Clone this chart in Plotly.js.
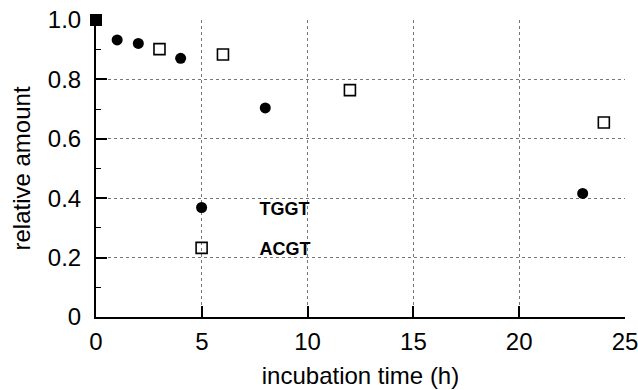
<!DOCTYPE html>
<html>
<head>
<meta charset="utf-8">
<script src="https://cdn.plot.ly/plotly-3.0.1.min.js"></script>
<style>html,body{margin:0;padding:0;background:#fff;}#chart{width:638px;height:390px;}</style>
</head>
<body>
<div id="chart"></div>
<script>
// incubation time (h) and relative amount
var startTime = [0];
var startAmount = [1.0];
var tggtTime = [1, 2, 4, 8, 23];
var tggtAmount = [0.933, 0.921, 0.871, 0.704, 0.416];
var acgtTime = [3, 6, 12, 24];
var acgtAmount = [0.902, 0.884, 0.764, 0.655];
var xTicks = [0, 5, 10, 15, 20, 25];
var yTicks = [0, 0.2, 0.4, 0.6, 0.8, 1.0];
var yTickText = ['0', '0.2', '0.4', '0.6', '0.8', '1.0'];

var traces = [
  {
    x: tggtTime, y: tggtAmount, name: 'TGGT', type: 'scatter', mode: 'markers',
    legendgroup: 'a', cliponaxis: false,
    marker: {symbol: 'circle', size: 11, color: '#000', line: {width: 0}}
  },
  {
    x: acgtTime, y: acgtAmount, name: 'ACGT', type: 'scatter', mode: 'markers',
    legendgroup: 'b', cliponaxis: false,
    marker: {symbol: 'square-open', size: 11, color: '#000', line: {width: 1.6, color: '#000'}}
  },
  {
    x: startTime, y: startAmount, name: 'start', type: 'scatter', mode: 'markers',
    showlegend: false, cliponaxis: false,
    marker: {symbol: 'square', size: 12, color: '#000', line: {width: 0}}
  }
];

var axisFont = {family: 'Liberation Sans, Arial, sans-serif', size: 24, color: '#000'};
var layout = {
  width: 638, height: 390,
  margin: {l: 96, r: 13, t: 20, b: 73, pad: 0},
  paper_bgcolor: '#fff', plot_bgcolor: '#fff',
  font: axisFont,
  showlegend: true,
  legend: {
    x: 0.09, y: 0.43, xanchor: 'left', yanchor: 'top',
    bgcolor: 'rgba(0,0,0,0)', borderwidth: 0,
    itemwidth: 106, traceorder: 'grouped', tracegroupgap: 14,
    font: {family: 'Liberation Sans, Arial, sans-serif', size: 18, color: '#000', weight: 'bold'}
  },
  xaxis: {
    range: [0, 25], tickvals: xTicks, ticktext: xTicks.map(String),
    ticks: 'inside', ticklen: 11, tickwidth: 2, tickcolor: '#000',
    ticklabelstandoff: 2, ticklabeloverflow: 'allow',
    showline: true, linecolor: '#000', linewidth: 2,
    showgrid: true, gridcolor: '#777', griddash: 'dot', gridwidth: 1,
    zeroline: false, tickfont: axisFont,
    title: {text: 'incubation time (h)', font: axisFont, standoff: 13}
  },
  yaxis: {
    range: [0, 1.0], tickvals: yTicks, ticktext: yTickText,
    ticks: 'inside', ticklen: 11, tickwidth: 2, tickcolor: '#000',
    ticklabelstandoff: 8,
    minor: {dtick: 0.1, ticks: 'inside', ticklen: 5, tickwidth: 1, tickcolor: '#000', showgrid: false},
    showline: true, linecolor: '#000', linewidth: 2,
    showgrid: true, gridcolor: '#777', griddash: 'dot', gridwidth: 1,
    zeroline: false, tickfont: axisFont,
    title: {text: 'relative amount', font: axisFont, standoff: 10}
  }
};

Plotly.newPlot('chart', traces, layout, {displayModeBar: false, staticPlot: true});
</script>
</body>
</html>
